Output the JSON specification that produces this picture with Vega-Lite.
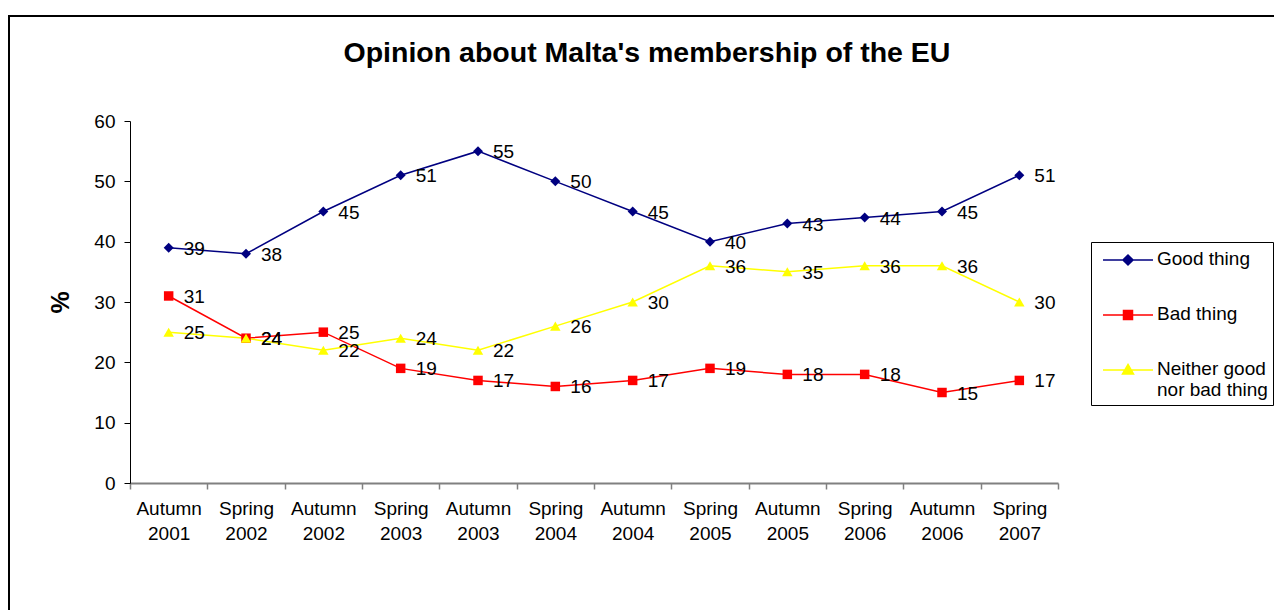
{
  "$schema": "https://vega.github.io/schema/vega-lite/v6.json",
  "width": 1270,
  "height": 600,
  "autosize": {"type": "none"},
  "padding": {"left": 9, "top": 16, "right": 0, "bottom": 0},
  "background": "white",
  "title": {
    "text": "Opinion about Malta's membership of the EU",
    "fontSize": 28.5,
    "fontWeight": "bold",
    "anchor": "middle",
    "frame": "group",
    "baseline": "alphabetic",
    "offset": -74,
    "dx": 3,
    "color": "black"
  },
  "config": {
    "font": "Liberation Sans",
    "view": {"stroke": "black", "strokeWidth": 2}
  },
  "data": {
    "values": [
      {"period": "Autumn 2001", "series": "Good thing", "value": 39},
      {"period": "Spring 2002", "series": "Good thing", "value": 38},
      {"period": "Autumn 2002", "series": "Good thing", "value": 45},
      {"period": "Spring 2003", "series": "Good thing", "value": 51},
      {"period": "Autumn 2003", "series": "Good thing", "value": 55},
      {"period": "Spring 2004", "series": "Good thing", "value": 50},
      {"period": "Autumn 2004", "series": "Good thing", "value": 45},
      {"period": "Spring 2005", "series": "Good thing", "value": 40},
      {"period": "Autumn 2005", "series": "Good thing", "value": 43},
      {"period": "Spring 2006", "series": "Good thing", "value": 44},
      {"period": "Autumn 2006", "series": "Good thing", "value": 45},
      {"period": "Spring 2007", "series": "Good thing", "value": 51},
      {"period": "Autumn 2001", "series": "Bad thing", "value": 31},
      {"period": "Spring 2002", "series": "Bad thing", "value": 24},
      {"period": "Autumn 2002", "series": "Bad thing", "value": 25},
      {"period": "Spring 2003", "series": "Bad thing", "value": 19},
      {"period": "Autumn 2003", "series": "Bad thing", "value": 17},
      {"period": "Spring 2004", "series": "Bad thing", "value": 16},
      {"period": "Autumn 2004", "series": "Bad thing", "value": 17},
      {"period": "Spring 2005", "series": "Bad thing", "value": 19},
      {"period": "Autumn 2005", "series": "Bad thing", "value": 18},
      {"period": "Spring 2006", "series": "Bad thing", "value": 18},
      {"period": "Autumn 2006", "series": "Bad thing", "value": 15},
      {"period": "Spring 2007", "series": "Bad thing", "value": 17},
      {"period": "Autumn 2001", "series": "Neither good nor bad thing", "value": 25},
      {"period": "Spring 2002", "series": "Neither good nor bad thing", "value": 24},
      {"period": "Autumn 2002", "series": "Neither good nor bad thing", "value": 22},
      {"period": "Spring 2003", "series": "Neither good nor bad thing", "value": 24},
      {"period": "Autumn 2003", "series": "Neither good nor bad thing", "value": 22},
      {"period": "Spring 2004", "series": "Neither good nor bad thing", "value": 26},
      {"period": "Autumn 2004", "series": "Neither good nor bad thing", "value": 30},
      {"period": "Spring 2005", "series": "Neither good nor bad thing", "value": 36},
      {"period": "Autumn 2005", "series": "Neither good nor bad thing", "value": 35},
      {"period": "Spring 2006", "series": "Neither good nor bad thing", "value": 36},
      {"period": "Autumn 2006", "series": "Neither good nor bad thing", "value": 36},
      {"period": "Spring 2007", "series": "Neither good nor bad thing", "value": 30}
    ]
  },
  "encoding": {
    "x": {
      "field": "period",
      "type": "nominal",
      "bandPosition": 0.5,
      "scale": {
        "type": "band",
        "domain": ["Autumn 2001", "Spring 2002", "Autumn 2002", "Spring 2003", "Autumn 2003", "Spring 2004", "Autumn 2004", "Spring 2005", "Autumn 2005", "Spring 2006", "Autumn 2006", "Spring 2007"],
        "range": [121, 1049],
        "paddingInner": 0,
        "paddingOuter": 0
      },
      "axis": {
        "orient": "bottom",
        "offset": -133,
        "title": null,
        "labelAngle": 0,
        "labelExpr": "split(datum.label, ' ')",
        "labelFontSize": 19,
        "labelColor": "black",
        "labelPadding": 10,
        "labelLineHeight": 25,
        "tickBand": "extent",
        "tickSize": 6,
        "tickColor": "#808080",
        "tickWidth": 1.5,
        "domainColor": "#808080",
        "domainWidth": 2,
        "grid": false
      }
    },
    "y": {
      "field": "value",
      "type": "quantitative",
      "scale": {"domain": [0, 60], "range": [467, 105], "nice": false},
      "axis": {
        "orient": "left",
        "offset": -121,
        "values": [0, 10, 20, 30, 40, 50, 60],
        "title": "%",
        "titleFontSize": 25,
        "titleFontWeight": "bold",
        "titleColor": "black",
        "titleAngle": -90,
        "titleX": -70,
        "titleY": 286,
        "titleAlign": "center",
        "titleBaseline": "middle",
        "labelFontSize": 19,
        "labelColor": "black",
        "labelPadding": 9,
        "tickSize": 6,
        "tickColor": "black",
        "domainColor": "black",
        "domainWidth": 1,
        "grid": false
      }
    },
    "color": {
      "field": "series",
      "type": "nominal",
      "scale": {
        "domain": ["Good thing", "Bad thing", "Neither good nor bad thing"],
        "range": ["#000080", "#FF0000", "#FFFF00"]
      },
      "legend": {
        "orient": "none",
        "legendX": 1082,
        "legendY": 226,
        "title": null,
        "strokeColor": "black",
        "fillColor": "white",
        "padding": 5,
        "rowPadding": 33,
        "labelFontSize": 19,
        "labelColor": "black",
        "labelOffset": 16,
        "labelLimit": 0,
        "labelLineHeight": 24,
        "labelBaseline": "top",
        "symbolSize": 576,
        "symbolOffset": 19,
        "symbolOpacity": 1,
        "symbolStrokeWidth": 1.5,
        "labelExpr": "datum.label == 'Neither good nor bad thing' ? ['Neither good', 'nor bad thing'] : datum.label",
        "encode": {
          "symbols": {"update": {"stroke": {"scale": "color", "field": "value"}}},
          "labels": {"update": {"dy": {"value": -10}}}
        }
      }
    }
  },
  "layer": [
    {"mark": {"type": "line", "strokeWidth": 1.5}},
    {
      "transform": [{"filter": "datum.series == 'Good thing'"}],
      "mark": {"type": "point", "shape": "diamond", "filled": true, "size": 100, "opacity": 1}
    },
    {
      "transform": [{"filter": "datum.series == 'Bad thing'"}],
      "mark": {"type": "point", "shape": "square", "filled": true, "size": 90, "opacity": 1}
    },
    {
      "transform": [{"filter": "datum.series == 'Neither good nor bad thing'"}],
      "mark": {"type": "point", "shape": "triangle-up", "filled": true, "size": 110, "opacity": 1}
    },
    {
      "mark": {"type": "text", "align": "left", "baseline": "middle", "dx": 15, "dy": 1, "fontSize": 19, "color": "black"},
      "encoding": {"text": {"field": "value", "type": "quantitative"}, "color": {"value": "black"}}
    },
    {
      "transform": [{"filter": "false"}],
      "mark": {"type": "point", "filled": true, "size": 576, "opacity": 1, "strokeWidth": 1.5},
      "encoding": {
        "shape": {
          "field": "series",
          "type": "nominal",
          "scale": {
            "domain": ["Good thing", "Bad thing", "Neither good nor bad thing"],
            "range": [
              "M-2.083,0H2.083M0,-0.42L0.42,0L0,0.42L-0.42,0Z",
              "M-2.083,0H2.083M-0.375,-0.375H0.375V0.375H-0.375Z",
              "M-2.083,0H2.083M0,-0.46L0.46,0.34L-0.46,0.34Z"
            ]
          },
          "legend": null
        }
      }
    }
  ]
}
